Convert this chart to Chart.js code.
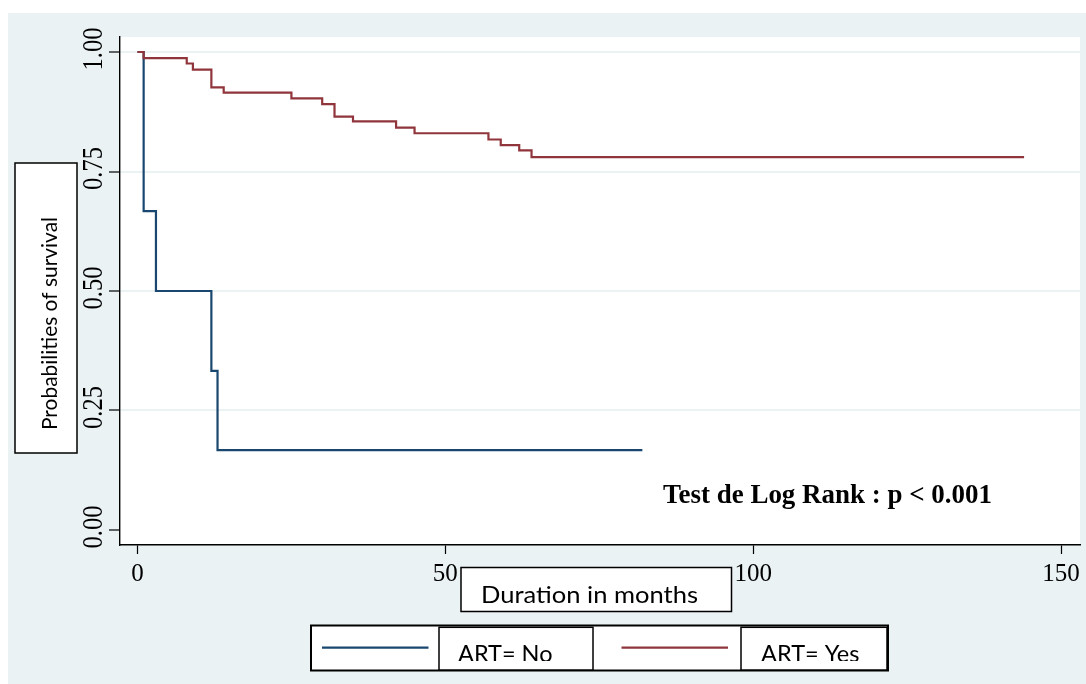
<!DOCTYPE html>
<html><head><meta charset="utf-8">
<script src="https://cdn.jsdelivr.net/npm/chart.js@4/dist/chart.umd.min.js"></script>
<style>html,body{margin:0;padding:0;background:#fff;}#wrap{width:1086px;height:684px;}</style>
</head><body><div id="wrap"><canvas id="c" width="1086" height="684"></canvas></div>
<script>
// Kaplan-Meier survival estimates
const timesNo = [0, 1, 3, 12, 13, 82];
const survNo  = [1, 0.667, 0.5, 0.333, 0.167, 0.167];
const timesYes = [0, 1, 8, 9, 12, 14, 25, 30, 32, 35, 42, 45, 57, 59, 62, 64, 144];
const survYes  = [1, 0.987, 0.976, 0.963, 0.926, 0.915, 0.903, 0.891, 0.865, 0.855, 0.842, 0.830, 0.817, 0.805, 0.794, 0.780, 0.780];
const xTicks = [0, 50, 100, 150];
const yTicks = [0, 0.25, 0.5, 0.75, 1];
const yTickLabels = ['0.00', '0.25', '0.50', '0.75', '1.00'];
const seriesLabels = ['ART= No', 'ART= Yes'];
const seriesColors = ['#1a476f', '#90353b'];
const xTitle = 'Duration in months';
const yTitle = 'Probabilities of survival';
const annotation = 'Test de Log Rank : p < 0.001';

const BG = '#eaf2f3';
const SANS = 'Lato, "Open Sans", sans-serif';
const SERIF = '"Liberation Serif", "DejaVu Serif", serif';

function toPts(ts, vs) { return ts.map((t, i) => ({ x: t, y: vs[i] })); }

// draw text with given target width and cap height (capH null -> natural aspect)
function fitText(ctx, text, x, y, width, capH, family, weight, capRatio, align, rot) {
  ctx.save();
  let size = capH ? capH / capRatio : 20;
  ctx.font = `${weight} ${size}px ${family}`;
  let w = ctx.measureText(text).width;
  let sx = width / w;
  if (!capH) {
    size = size * sx;
    ctx.font = `${weight} ${size}px ${family}`;
    w = ctx.measureText(text).width;
    sx = width / w;
  }
  ctx.translate(x, y);
  if (rot) ctx.rotate(rot);
  ctx.scale(sx, 1);
  ctx.textBaseline = 'alphabetic';
  ctx.textAlign = 'left';
  let ox = 0;
  if (align === 'center') ox = -w / 2;
  else if (align === 'right') ox = -w;
  ctx.fillStyle = '#000';
  ctx.fillText(text, ox, 0);
  ctx.restore();
}

function box(ctx, x, y, w, h, lw) {
  ctx.save();
  ctx.fillStyle = '#fff';
  ctx.fillRect(x, y, w, h);
  ctx.strokeStyle = '#000';
  ctx.lineWidth = lw || 1.5;
  ctx.strokeRect(x, y, w, h);
  ctx.restore();
}

const decor = {
  id: 'decor',
  beforeDraw(chart) {
    const ctx = chart.ctx, a = chart.chartArea;
    ctx.save();
    ctx.fillStyle = '#fff';
    ctx.fillRect(0, 0, chart.width, chart.height);
    ctx.fillStyle = BG;
    ctx.fillRect(8, 13, chart.width - 8, chart.height - 13);
    ctx.fillStyle = '#fff';
    ctx.fillRect(a.left, a.top, a.right - a.left, a.bottom - a.top);
    ctx.restore();
  },
  afterDraw(chart) {
    const ctx = chart.ctx;
    const ys = chart.scales.y;
    // y tick labels (rotated)
    ys.ticks.forEach((tk) => {
      const idx = yTicks.indexOf(tk.value);
      if (idx < 0) return;
      const py = ys.getPixelForValue(tk.value) - 3;
      fitText(ctx, yTickLabels[idx], 102, py, 43, 19, SERIF, 'normal', 0.662, 'center', -Math.PI / 2);
    });
    // y title box
    box(ctx, 15, 163, 62, 290);
    fitText(ctx, yTitle, 57, 430, 213, 15.5, SANS, 'normal', 0.72, 'left', -Math.PI / 2);
    // x title box
    box(ctx, 461, 567.5, 270.5, 44);
    fitText(ctx, xTitle, 481, 602.7, 217, 16, SANS, 'normal', 0.72, 'left', 0);
    // annotation
    fitText(ctx, annotation, 663, 503.3, 329, null, SERIF, 'bold', 0.662, 'left', 0);
    // legend
    box(ctx, 311, 625.5, 577, 45, 2);
    const cells = [[439, 593, 322, 428.5], [741, 887, 621.5, 728]];
    cells.forEach((c, i) => {
      ctx.save();
      ctx.strokeStyle = seriesColors[i];
      ctx.lineWidth = 2.2;
      ctx.beginPath();
      ctx.moveTo(c[2], 647.7);
      ctx.lineTo(c[3], 647.7);
      ctx.stroke();
      ctx.restore();
      box(ctx, c[0], 627.3, c[1] - c[0], 42.7, 1.5);
      ctx.save();
      ctx.beginPath();
      ctx.rect(c[0], 627.3, c[1] - c[0], 661 - 627.3);
      ctx.clip();
      fitText(ctx, seriesLabels[i], i === 0 ? 458 : 761, 662, i === 0 ? 94.5 : 98.5, 16, SANS, 'normal', 0.72, 'left', 0);
      ctx.restore();
    });
  }
};

new Chart(document.getElementById('c'), {
  type: 'line',
  data: {
    datasets: [
      { label: seriesLabels[0], data: toPts(timesNo, survNo), borderColor: seriesColors[0], borderWidth: 2.2, pointRadius: 0, stepped: true, fill: false, order: 2 },
      { label: seriesLabels[1], data: toPts(timesYes, survYes), borderColor: seriesColors[1], borderWidth: 2.2, pointRadius: 0, stepped: true, fill: false, order: 1 }
    ]
  },
  options: {
    responsive: false,
    animation: false,
    devicePixelRatio: 1,
    layout: { padding: { top: 37, right: 6, left: 0, bottom: 0 } },
    plugins: { legend: { display: false }, title: { display: false }, tooltip: { enabled: false } },
    scales: {
      x: {
        type: 'linear', min: -2.84, max: 153.08,
        afterBuildTicks: (s) => { s.ticks = xTicks.map(v => ({ value: v })); },
        afterFit: (s) => { s.height = 139; },
        ticks: { font: { family: SERIF, size: 25 }, color: '#000', padding: 5, maxRotation: 0, minRotation: 0, autoSkip: false, callback: (v) => String(v) },
        grid: { drawOnChartArea: false, drawTicks: true, tickLength: 9, tickColor: '#000', tickWidth: 1.2 },
        border: { display: true, color: '#000', width: 1.4 }
      },
      y: {
        type: 'linear', min: -0.0314, max: 1.0314,
        afterBuildTicks: (s) => { s.ticks = yTicks.map(v => ({ value: v })); },
        afterFit: (s) => { s.width = 120; },
        ticks: { display: false },
        grid: {
          color: (c) => (c.tick && c.tick.value === 0 ? 'rgba(0,0,0,0)' : BG),
          lineWidth: 2, drawTicks: true, tickLength: 11, tickColor: '#000', tickWidth: 1.2
        },
        border: { display: true, color: '#000', width: 1.4 }
      }
    }
  },
  plugins: [decor]
});
</script></body></html>
